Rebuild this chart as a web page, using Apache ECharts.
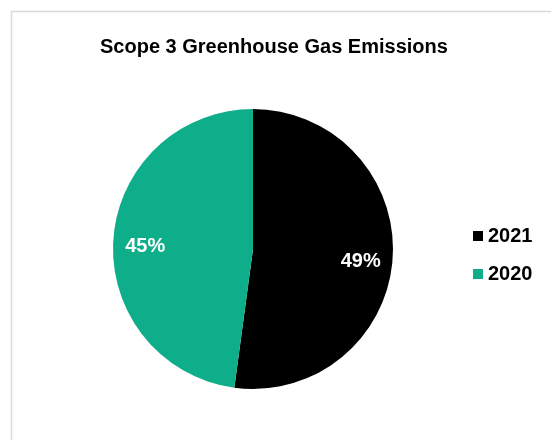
<!DOCTYPE html>
<html><head><meta charset="utf-8">
<script src="https://cdn.jsdelivr.net/npm/echarts@6/dist/echarts.min.js"></script>
<style>html,body{margin:0;padding:0;background:#fff}#c{width:551px;height:440px}</style>
</head><body><div id="c"></div>
<script>
const titleText = 'Scope 3 Greenhouse Gas Emissions';
const categories = ['2021', '2020'];
const values = [49, 45];
const colors = ['#000000', '#0FAE8A'];

const data = categories.map((c, i) => ({ name: c, value: values[i], itemStyle: { color: colors[i] } }));
const chart = echarts.init(document.getElementById('c'), null, { renderer: 'canvas' });
const center = [253, 249];
const R = 140;
const font = 'Liberation Sans, Arial';
chart.setOption({
  animation: false,
  backgroundColor: '#fff',
  graphic: [{
    type: 'rect', silent: true, z: -1,
    shape: { x: 11.5, y: 11.5, width: 700, height: 700 },
    style: { fill: '#fff', stroke: '#d9d9d9', lineWidth: 1.5 }
  }],
  title: {
    text: titleText, left: 100, top: 37, padding: 0,
    textStyle: { fontFamily: font, fontWeight: 'bold', fontSize: 20, color: '#000' }
  },
  legend: {
    orient: 'vertical', left: 468, top: 221, itemWidth: 10, itemHeight: 10, itemGap: 18,
    icon: 'rect', data: categories,
    textStyle: { fontFamily: font, fontWeight: 'bold', fontSize: 20, color: '#000' }
  },
  series: [{
    type: 'pie', center: center, radius: [0, R], startAngle: 90, clockwise: true,
    silent: true, label: { show: false }, labelLine: { show: false },
    data: data
  }, {
    type: 'pie', center: center, radius: [R / 2, R], startAngle: 90, clockwise: true,
    silent: true, legendHoverLink: false,
    itemStyle: { color: 'transparent' },
    label: { show: true, position: 'inside', formatter: '{c}%', color: '#fff',
      fontFamily: font, fontWeight: 'bold', fontSize: 20 },
    labelLayout: { dy: 5 },
    labelLine: { show: false },
    data: categories.map((c, i) => ({ name: c, value: values[i], itemStyle: { color: 'transparent' } }))
  }]
});
</script></body></html>
